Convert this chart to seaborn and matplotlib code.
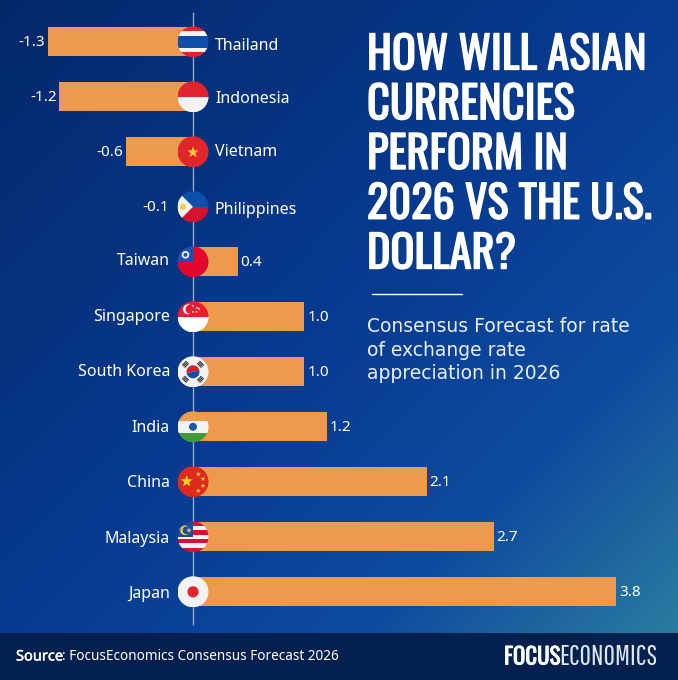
import numpy as np
import pandas as pd
import matplotlib
matplotlib.use("Agg")
import matplotlib.pyplot as plt
import matplotlib.patheffects as pe
from matplotlib.colors import LinearSegmentedColormap
from matplotlib.patches import Circle, Rectangle, Polygon, Wedge
import seaborn as sns

countries = ["Thailand", "Indonesia", "Vietnam", "Philippines", "Taiwan", "Singapore",
             "South Korea", "India", "China", "Malaysia", "Japan"]
appreciation = [-1.3, -1.2, -0.6, -0.1, 0.4, 1.0, 1.0, 1.2, 2.1, 2.7, 3.8]

title = "HOW WILL ASIAN\nCURRENCIES\nPERFORM IN\n2026 VS THE U.S.\nDOLLAR?"
subtitle = "Consensus Forecast for rate\nof exchange rate\nappreciation in 2026"

ORANGE = "#ee9a4d"
RED = "#e0252f"
WHITE = "#f3f3f5"
BLUE = "#0b50ad"
W, H = 678, 680
CONDENSED = ["Oswald", "Roboto", "DejaVu Sans"]

sns.set_theme(style="white")
plt.rcParams["font.family"] = ["Noto Sans", "DejaVu Sans"]

df = pd.DataFrame({"country": countries, "value": appreciation})

fig = plt.figure(figsize=(W / 100, H / 100), dpi=100)

# background gradient
bg = fig.add_axes([0, 0, 1, 1], zorder=0)
gx, gy = np.meshgrid(np.linspace(0, 1, 680), np.linspace(0, 1, 680))
grad = LinearSegmentedColormap.from_list(
    "bg", [(0, "#04286a"), (0.5, "#073c92"), (0.74, "#0f4c9e"), (1, "#2f83a0")], N=1024)
bg.imshow((gx + gy) / 2, cmap=grad, vmin=0, vmax=1, extent=[0, W, H, 0], aspect="auto")
bg.add_patch(Rectangle((0, 633), W, 47, color="#04204e", lw=0))
bg.set_xlim(0, W)
bg.set_ylim(H, 0)
bg.axis("off")

# bars
ax = fig.add_axes([0, 0, 1, 1], zorder=1)
ax.patch.set_alpha(0)
sns.barplot(data=df, x="value", y="country", color=ORANGE, saturation=1, width=0.535,
            orient="h", edgecolor="none", linewidth=0, ax=ax)
ax.set_xlim(-193 / 111.4, (W - 193) / 111.4)
ax.set_ylim((H - 41.3) / 55, -41.3 / 55)
ax.axis("off")
ax.vlines(0, -29.3 / 55, (625 - 41.3) / 55, color="#8fa9d0", lw=1, zorder=0.5)

value_labels = ax.bar_label(ax.containers[0], fmt="%.1f", padding=2, color="white", fontsize=11)
for lab in value_labels:
    lab.set_position((lab.get_position()[0], -0.7))
# the -0.1 bar sits under the flag, its number goes left of the flag
value_labels[3].set_position((-9.6, -1))

# flags and text are drawn in pixels so the circles stay round
top = fig.add_axes([0, 0, 1, 1], zorder=2)
top.patch.set_alpha(0)
top.set_xlim(0, W)
top.set_ylim(H, 0)
top.axis("off")


def star(cx, cy, r, color):
    ang = np.pi / 2 + np.arange(10) * np.pi / 5
    rad = np.where(np.arange(10) % 2 == 0, r, r * 0.4)
    return Polygon(np.c_[cx + rad * np.cos(ang), cy - rad * np.sin(ang)], color=color, lw=0)


def stripes(cx, cy, r, edges, colors):
    out = []
    for i, c in enumerate(colors):
        out.append(Rectangle((cx - r, cy - r + edges[i] * 2 * r), 2 * r,
                             (edges[i + 1] - edges[i]) * 2 * r, color=c, lw=0))
    return out


def flag_parts(name, x, y, r):
    if name == "Thailand":
        return stripes(x, y, r, [0, .15, .3, .7, .84, 1], [RED, WHITE, "#0d4fa8", WHITE, RED])
    if name == "Indonesia":
        return stripes(x, y, r, [0, .5, 1], [RED, WHITE])
    if name == "Vietnam":
        return [Rectangle((x - r, y - r), 2 * r, 2 * r, color="#e0262b", lw=0), star(x, y + 0.5, 6, "#f8c63b")]
    if name == "Philippines":
        return stripes(x, y, r, [0, .5, 1], [BLUE, "#d8112c"]) + [
            Polygon([(x - r, y - r), (x - r, y + r), (x, y)], color=WHITE, lw=0),
            Circle((x - 10, y), 3.2, color="#f8cf58", lw=0)]
    if name == "Taiwan":
        return [Rectangle((x - r, y - r), 2 * r, 2 * r, color="#e2072f", lw=0),
                Rectangle((x - r, y - r), r, r, color="#1751b5", lw=0),
                Circle((x - 7.5, y - 7), 3.8, color=WHITE, lw=0),
                Circle((x - 7.5, y - 7), 2, color="#1751b5", lw=0)]
    if name == "Singapore":
        return stripes(x, y, r, [0, .5, 1], ["#ea1c2e", "#ffffff"]) + [
            Circle((x - 5, y - 7.5), 5, color="white", lw=0),
            Circle((x - 3, y - 7.5), 4.5, color="#ea1c2e", lw=0)] + [
            Circle((x + dx, y + dy), 0.9, color="white", lw=0)
            for dx, dy in [(0, -11), (4, -9), (0, -5), (3.5, -5), (6, -8)]]
    if name == "South Korea":
        parts = [Rectangle((x - r, y - r), 2 * r, 2 * r, color=WHITE, lw=0),
                 Wedge((x, y), 6.5, 170, 350, color="#d9202c", lw=0),
                 Wedge((x, y), 6.5, 350, 170, color="#0d4fa8", lw=0)]
        for dx, dy in [(-7.5, -7.5), (7.5, -7.5), (-7.5, 7.5), (7.5, 7.5)]:
            # the short black bars run across the radius
            ang = -45 if dx * dy > 0 else 45
            nx, ny = (np.array([dx, dy]) / np.hypot(dx, dy))
            for k in (-1.6, 0, 1.6):
                parts.append(Rectangle((x + dx + k * nx - 3, y + dy + k * ny - 0.55), 6, 1.1, angle=ang,
                                       rotation_point="center", color="#26262b", lw=0))
        return parts
    if name == "India":
        return stripes(x, y, r, [0, .3, .7, 1], [ORANGE, WHITE, "#3f9a3c"]) + [
            Circle((x, y), 4, color="#1d57a8", lw=0)]
    if name == "China":
        return [Rectangle((x - r, y - r), 2 * r, 2 * r, color="#dc2a1d", lw=0),
                star(x - 6.3, y - 0.5, 6.3, "#fbd31d")] + [
            star(x + dx, y + dy, 2.6, "#fbd31d")
            for dx, dy in [(5.3, -7.6), (10, -3), (10, 4), (5.3, 9)]]
    if name == "Malaysia":
        edges = list(np.linspace(0, 1, 8))
        cols = ["#d3132f", WHITE, "#d3132f", WHITE, "#d3132f", WHITE, "#d3132f"]
        return stripes(x, y, r, edges, cols) + [
            Rectangle((x - r, y - r), r, r, color="#1b4aa2", lw=0),
            Circle((x - 8, y - 6.5), 4.8, color="#f6cb3e", lw=0),
            Circle((x - 6.5, y - 6.5), 3.9, color="#1b4aa2", lw=0),
            star(x - 4, y - 6.5, 2.8, "#f6cb3e")]
    return [Rectangle((x - r, y - r), 2 * r, 2 * r, color=WHITE, lw=0),
            Circle((x, y), 5.6, color=RED, lw=0)]


# small shifts of the country names seen in the reference, in pixels
name_shift = [5, 3, 1, 4, 0, 1, 1, 2, 2, 3, 3]

fig.canvas.draw()
for i, (name, val) in enumerate(zip(countries, appreciation)):
    px = ax.transData.transform((0, i))
    x, y = px[0], H - px[1]
    clip = Circle((x, y + 0.5), 15.5, transform=top.transData, fc="none", ec="none")
    top.add_patch(clip)
    for part in flag_parts(name, x, y + 0.5, 15.5):
        top.add_patch(part)
        part.set_clip_path(clip)
    if val < 0:
        top.text(x + 22, y + name_shift[i], name, color="white", fontsize=11.5, ha="left", va="center")
    else:
        top.text(x - 23, y + name_shift[i], name, color="white", fontsize=11.5, ha="right", va="center")

# the Philippines bar is shorter than the flag radius and stays hidden behind it
phil_clip = Circle((ax.transData.transform((0, 3))[0], H - ax.transData.transform((0, 3))[1] + 0.5), 15,
                   transform=top.transData, fc="none", ec="none")
top.add_patch(phil_clip)
ax.containers[0][3].set_clip_path(phil_clip)

top.text(367, 155, title, color="white", fontsize=32, fontweight="bold",
         family=CONDENSED, va="center", linespacing=1.16,
         path_effects=[pe.withStroke(linewidth=1.0, foreground="white")])
top.plot([372, 462], [294, 294], color="white", lw=1)
top.text(367, 350, subtitle, color="#e8eef8", fontsize=13.5, family="DejaVu Sans", va="center", linespacing=1.33)

# footer
top.text(16, 657, "Source", color="white", fontsize=10.5, va="center",
         path_effects=[pe.withStroke(linewidth=0.3, foreground="white")])
top.text(62, 657, ": FocusEconomics Consensus Forecast 2026", color="white", fontsize=9.75, va="center")
top.text(504, 657, "FOCUS", color="white", fontsize=16.5, fontweight="bold", family=CONDENSED, va="center",
         path_effects=[pe.withStroke(linewidth=0.6, foreground="white")])
top.text(559, 657, "ECONOMICS", color="#dfe6f0", fontsize=20,
         family=["Pathway Gothic One", "Oswald", "DejaVu Sans"], va="center")

fig.savefig("out.png", dpi=100)
